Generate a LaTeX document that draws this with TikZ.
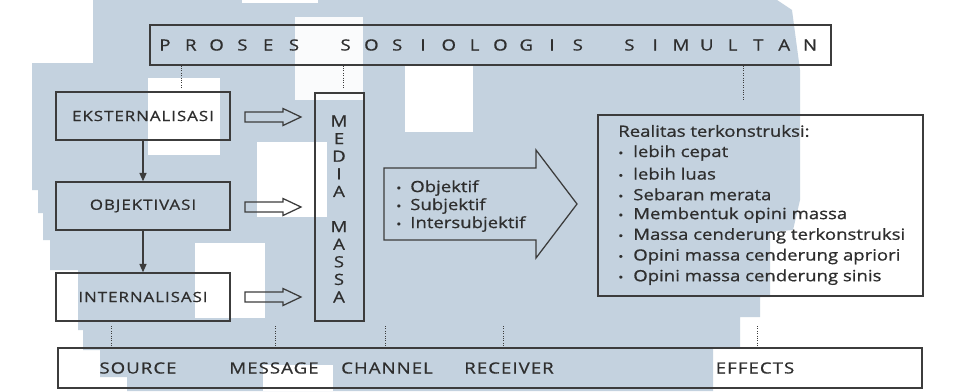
\documentclass[tikz,border=0pt]{standalone}
\usepackage{fontspec}
\setmainfont{Open Sans}[FakeStretch=1.2, FakeBold=0.8]
\newfontfamily\capsfont{Open Sans}[FakeStretch=1.2, FakeBold=0.8, LetterSpace=7]
\usetikzlibrary{arrows.meta}
\definecolor{ink}{HTML}{2E2E2E}
\definecolor{frame}{HTML}{3C3C3C}
\definecolor{wash}{HTML}{C4D2DF}

\begin{document}
\begin{tikzpicture}[x=0.025cm, y=-0.025cm, font=\fontsize{11}{13}\selectfont, text=ink]
  \useasboundingbox (0,0) rectangle (978,391);
  \tikzset{
    stage/.style={draw=frame, line width=0.9pt, minimum width=4.35cm,
                  minimum height=1.2cm, inner sep=0pt,
                  font=\capsfont\fontsize{10}{12}\selectfont},
    band/.style={draw=frame, line width=0.9pt, minimum height=1cm, inner sep=0pt},
    bandlab/.style={font=\capsfont\fontsize{11}{13}\selectfont, inner sep=0pt},
    letter/.style={font=\fontsize{11}{13}\selectfont, inner sep=0pt},
    item/.style={anchor=west, inner sep=0pt},
    tie/.style={frame, line width=0.7pt, densely dotted},
    flow/.style={frame, line width=0.9pt, -{Triangle[length=6pt,width=5pt]}},
    hollow/.style={draw=frame, line width=0.9pt, fill=none}}
  \newcommand{\hollowarrow}[1]{%
    \draw[hollow] (245,#1-5) -- (283,#1-5) -- (283,#1-8.5) -- (301,#1)
      -- (283,#1+8.5) -- (283,#1+5) -- (245,#1+5) -- cycle;}
  \newcommand{\dotmark}[1]{\makebox[#1][l]{\fontsize{8}{8}\selectfont\textbullet}}

  % --- the scanned wash behind the figure ---------------------------------
  \fill[white] (0,0) rectangle (978,391);
  \fill[wash] (93,0) -- (777,0) -- (792,10) -- (800,70) -- (800,200)
    -- (793,230) -- (770,232) -- (770,297) -- (760,297) -- (760,317)
    -- (740,317) -- (740,347) -- (713,347) -- (713,391) -- (127,391)
    -- (127,377) -- (100,377) -- (100,350) -- (83,350) -- (83,330)
    -- (78,330) -- (78,270) -- (50,270) -- (50,240) -- (43,240)
    -- (43,213) -- (38,213) -- (38,190) -- (32,190) -- (32,63)
    -- (93,63) -- cycle;
  \fill[white] (148,78) rectangle (220,155);
  \fill[white!92!wash] (295,17) rectangle (363,100);
  \fill[white] (405,65) rectangle (473,132);
  \fill[white] (257,142) rectangle (327,217);
  \fill[white] (195,243) rectangle (265,318);
  \fill[white] (263,365) rectangle (333,391);
  \fill[white] (242,0) rectangle (318,3);

  % ========== the top band: one letter per slot ============================
  \node[band, minimum width=17.025cm] (proses) at (490.5,45) {};
  \foreach \c [count=\i from 0] in {P,R,O,S,E,S,{},S,O,S,I,O,L,O,G,I,S,{},S,I,M,U,L,T,A,N}
    \node[letter] (t\i) at ({165+\i*25.8},45) {\c};

  % ========== the three moments ============================================
  \node[stage] (eks) at (143,116) {EKSTERNALISASI};
  \node[stage] (obj) at (143,206) {OBJEKTIVASI};
  \node[stage] (int) at (143,297) {INTERNALISASI};
  \draw[flow] (eks) -- (obj);
  \draw[flow] (obj) -- (int);

  % hollow arrows into the media column
  \hollowarrow{117}
  \hollowarrow{207}
  \hollowarrow{297}

  % ========== the media column, written downwards ==========================
  \node[draw=frame, line width=0.9pt, minimum width=1.225cm,
        minimum height=5.7cm, inner sep=0pt] (media) at (339.5,207) {};
  \foreach \c [count=\i from 0] in {M,E,D,I,A,{},M,A,S,S,A}
    \node[letter] (m\i) at (339,{121+\i*17.6}) {\c};

  % ========== the big arrow and its three modes ============================
  \draw[hollow] (384,168) -- (536,168) -- (536,150) -- (577,204)
    -- (536,258) -- (536,240) -- (384,240) -- cycle;
  \foreach \t [count=\i from 0] in {Objektif,Subjektif,Intersubjektif}
    \node[item] (k\i) at (396,{188+\i*18}) {\dotmark{0.35cm}\t};

  % ========== the constructed reality ======================================
  \node[draw=frame, line width=0.9pt, minimum width=8.125cm,
        minimum height=4.525cm, inner sep=0pt] (real) at (760.5,205.5) {};
  \node[item] (head) at (618,131) {Realitas terkonstruksi:};
  \foreach \t [count=\i from 0] in {lebih cepat,lebih luas,Sebaran merata,
      Membentuk opini massa,Massa cenderung terkonstruksi,
      Opini massa cenderung apriori,Opini massa cenderung sinis}
    \node[item] (r\i) at (618,{153+\i*20.7}) {\dotmark{0.375cm}\t};

  % ========== the bottom band ==============================================
  \node[band, minimum width=21.6cm] (smcre) at (490,368) {};
  \node[bandlab] (src) at (138,368) {SOURCE};
  \node[bandlab] (msg) at (274,368) {MESSAGE};
  \node[bandlab] (chn) at (387,368) {CHANNEL};
  \node[bandlab] (rcv) at (509,368) {RECEIVER};
  \node[bandlab] (eff) at (755,368) {EFFECTS};

  % --- dotted ties: top band down, bottom band up --------------------------
  \coordinate (u1) at (181,88);
  \coordinate (u2) at (343,88);
  \coordinate (u3) at (743,100);
  \foreach \u in {u1,u2,u3}
    \draw[tie] (proses.south -| \u) -- (\u);
  \foreach \x [count=\i] in {111,275,385,503,757} {
    \coordinate (d\i) at (\x,326);
    \draw[tie] (d\i) -- (smcre.north -| d\i);
  }
\end{tikzpicture}
\end{document}
